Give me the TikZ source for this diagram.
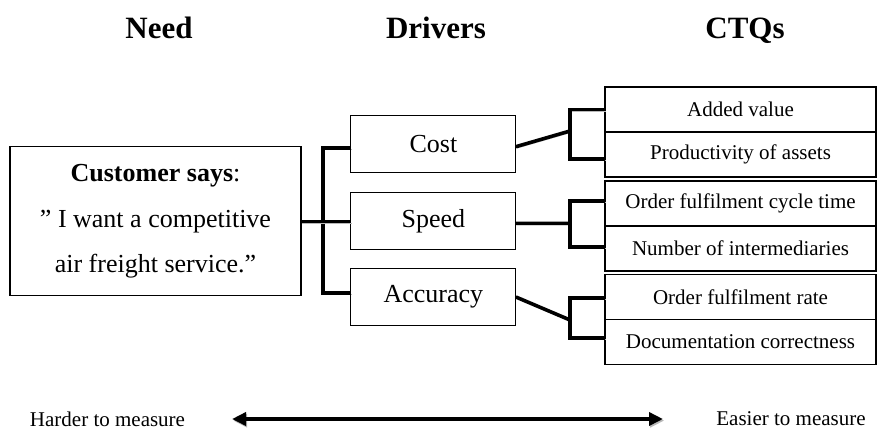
\documentclass[tikz,border=0pt]{standalone}
\usepackage{fontspec}
\setmainfont{Liberation Serif}
\usetikzlibrary{arrows.meta}
\begin{document}
\begin{tikzpicture}[x=1pt,y=-1pt,
  box/.style={draw,line width=1.1pt,inner sep=0pt,outer sep=0pt,align=center},
  needbox/.style={box,minimum width=291pt,minimum height=149pt,font=\fontsize{26}{45.5}\selectfont},
  drvbox/.style={box,minimum width=165pt,minimum height=57pt,font=\fontsize{26}{30}\selectfont},
  ctqbox/.style={box,minimum width=271pt,minimum height=45pt,font=\fontsize{21}{24}\selectfont},
  title/.style={anchor=base,font=\fontsize{31}{36}\selectfont\bfseries},
  scalelabel/.style={font=\fontsize{21}{24}\selectfont},
  shade/.style={preaction={draw=black!28,transform canvas={shift={(1.2pt,-1.6pt)}}}},
  conn/.style={line width=3.6pt,line join=miter,shade},
]
\useasboundingbox (0,0) rectangle (877,429);

% column headings
\node[title] (hneed) at (159,38) {Need};
\node[title] (hdrv) at (436,38) {Drivers};
\node[title] (hctq) at (745,38) {CTQs};

% need
\node[needbox] (need) at (155.5,221.4) {\textbf{Customer says}:\\ ” I want a competitive\\ air freight service.”};

% drivers
\node[drvbox] (cost) at (433.4,144.2) {Cost};
\node[drvbox] (speed) at (433.4,221.4) {Speed};
\node[drvbox] (acc) at (433.4,297) {Accuracy};

% critical-to-quality measures
\node[ctqbox] (av)  at (740.5,109.5) {Added value};
\node[ctqbox] (pa)  at (740.5,154.5) {Productivity of assets};
\node[ctqbox] (oc)  at (740.5,203.5) {Order fulfilment cycle time};
\node[ctqbox] (ni)  at (740.5,248.5) {Number of intermediaries};
\node[ctqbox] (ofr) at (740.5,297)   {Order fulfilment rate};
\node[ctqbox] (dc)  at (740.5,342)   {Documentation correctness};

% need -> drivers
\coordinate (jl) at (322.7,220);
\draw[conn] ([yshift=-3.5pt]cost.west) -| (jl) |- ([yshift=4pt]acc.west);
\draw[conn] (need.east) -- (speed.west);

% drivers -> CTQs
\coordinate (jc) at (570,131);
\coordinate (js) at (570,223.3);
\coordinate (ja) at (570,320);
\draw[conn] ([yshift=-2.5pt]cost.east) -- (jc);
\draw[conn] (av.west) -| (jc) |- ([yshift=-4.5pt]pa.west);
\draw[conn] ([yshift=-2pt]speed.east) -- (js);
\draw[conn] ([yshift=2.5pt]oc.west) -| (js) |- ([yshift=1.5pt]ni.west);
\draw[conn] (acc.east) -- (ja);
\draw[conn] ([yshift=-1pt]ofr.west) -| (ja) |- ([yshift=4pt]dc.west);

% measurability scale
\node[scalelabel] (hard) at (107.5,419) {Harder to measure};
\node[scalelabel] (easy) at (791,419) {Easier to measure};
\coordinate (al) at (232,419);
\coordinate (ar) at (663,419);
\draw[line width=4pt,shade,{Triangle[length=14pt,width=13pt]}-{Triangle[length=14pt,width=13pt]}] (al) -- (ar);
\end{tikzpicture}
\end{document}
